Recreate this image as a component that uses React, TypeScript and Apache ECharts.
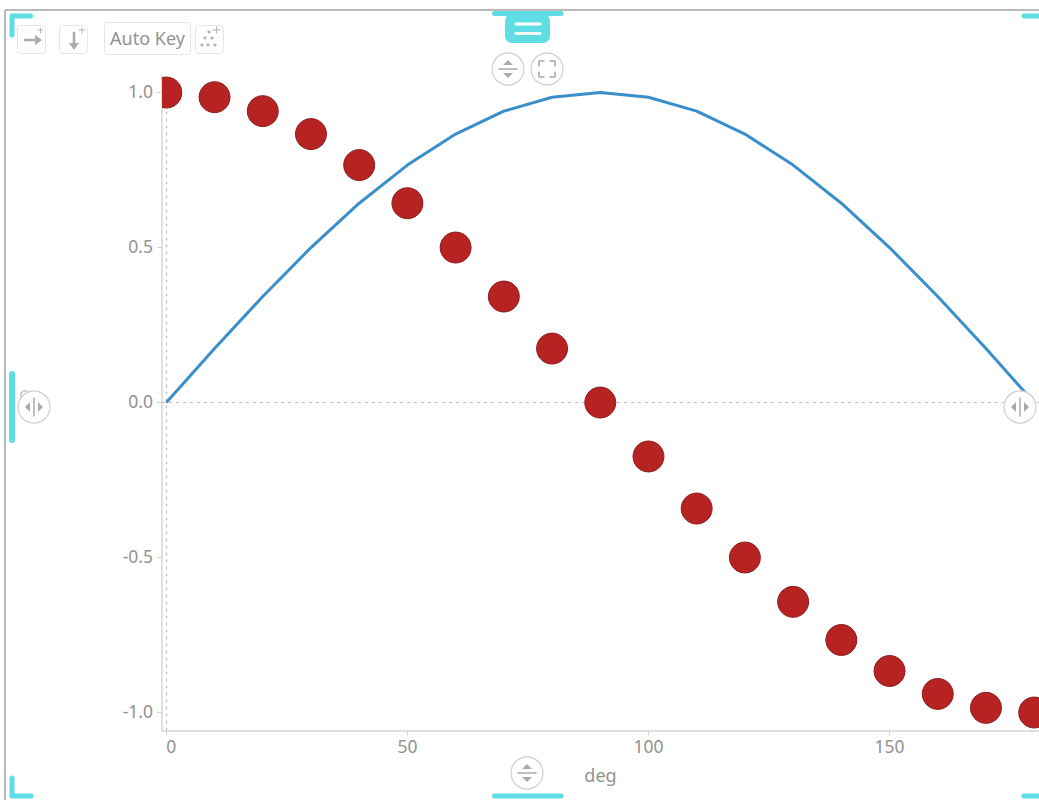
import React, { useEffect, useRef } from "react";
import * as echarts from "echarts";

const degrees = [0, 10, 20, 30, 40, 50, 60, 70, 80, 90, 100, 110, 120, 130, 140, 150, 160, 170, 180];
const sinValues = [0, 0.174, 0.342, 0.5, 0.643, 0.766, 0.866, 0.94, 0.985, 1, 0.985, 0.94, 0.866, 0.766, 0.643, 0.5, 0.342, 0.174, 0];
const cosValues = [1, 0.985, 0.94, 0.866, 0.766, 0.643, 0.5, 0.342, 0.174, 0, -0.174, -0.342, -0.5, -0.643, -0.766, -0.866, -0.94, -0.985, -1];
const xTicks = [0, 50, 100, 150];
const yTicks = [-1, -0.5, 0, 0.5, 1];

const FONT = "'Noto Sans', 'Open Sans', sans-serif";
const TEXT = "#929292";
const CYAN = "#5fdde4";
const ICON = "#ababab";
const Z = 100;

const line = (x1: number, y1: number, x2: number, y2: number, stroke: string, lineWidth: number) => ({
  type: "line", z: Z + 1, silent: true,
  shape: { x1, y1, x2, y2 },
  style: { stroke, lineWidth, lineCap: "round" },
});
const poly = (points: number[][], stroke: string, lineWidth: number) => ({
  type: "polyline", z: Z + 1, silent: true,
  shape: { points },
  style: { stroke, lineWidth, lineCap: "round", lineJoin: "round", fill: "none" },
});
const tri = (points: number[][], fill = ICON) => ({
  type: "polygon", z: Z + 1, silent: true, shape: { points }, style: { fill },
});
const box = (x: number, y: number, width: number, height: number, r: number, fill: string, stroke = "", lineWidth = 0) => ({
  type: "rect", z: Z, silent: true,
  shape: { x, y, width, height, r },
  style: { fill, stroke: stroke || undefined, lineWidth },
});
const ring = (cx: number, cy: number) => ({
  type: "circle", z: Z, silent: true,
  shape: { cx, cy, r: 16 },
  style: { fill: "#fff", stroke: "#cfcfcf", lineWidth: 1.2 },
});
const dot = (cx: number, cy: number) => ({
  type: "circle", z: Z + 1, silent: true, shape: { cx, cy, r: 1.6 }, style: { fill: "#b5b5b5" },
});
const vHandle = (cx: number, cy: number) => [
  ring(cx, cy),
  line(cx - 9, cy, cx + 9, cy, ICON, 1.5),
  tri([[cx, cy - 9], [cx - 5, cy - 4], [cx + 5, cy - 4]]),
  tri([[cx, cy + 9], [cx - 5, cy + 4], [cx + 5, cy + 4]]),
];
const hHandle = (cx: number, cy: number) => [
  ring(cx, cy),
  line(cx, cy - 9, cx, cy + 9, ICON, 1.5),
  tri([[cx - 9, cy], [cx - 4, cy - 5], [cx - 4, cy + 5]]),
  tri([[cx + 9, cy], [cx + 4, cy - 5], [cx + 4, cy + 5]]),
];

const decorations = [
  { type: "line", z: 50, silent: true, shape: { x1: 5, y1: 10, x2: 1039, y2: 10 }, style: { stroke: "#a3a3a3", lineWidth: 1.5 } },
  { type: "line", z: 50, silent: true, shape: { x1: 5, y1: 10, x2: 5, y2: 800 }, style: { stroke: "#a3a3a3", lineWidth: 1.5 } },
  poly([[30.5, 16], [12, 16], [12, 35]], CYAN, 5),
  poly([[12, 778], [12, 796], [31, 796]], CYAN, 5),
  line(1024, 16, 1039, 16, CYAN, 5),
  line(1024, 796, 1039, 796, CYAN, 5),
  line(494.5, 13.5, 561, 13.5, CYAN, 5),
  line(494.5, 796, 561, 796, CYAN, 5),
  line(12, 374, 12, 440, CYAN, 6),
  box(505, 14, 45, 29, 7, CYAN),
  line(516, 24, 540, 24, "#ffffff", 3),
  line(516, 33.5, 540, 33.5, "#ffffff", 3),
  box(17.5, 25.5, 28, 28, 3, "#fff", "#e6e6e6", 1),
  box(59.5, 25.5, 28, 28, 3, "#fff", "#e6e6e6", 1),
  box(104.5, 22.5, 86, 32, 3, "#fff", "#e6e6e6", 1),
  box(195.5, 25.5, 28, 28, 3, "#fff", "#e6e6e6", 1),
  line(25, 40, 36, 40, ICON, 2.5),
  tri([[42, 40], [35, 35], [35, 45]]),
  line(38, 30, 43, 30, "#b5b5b5", 1),
  line(40.5, 28, 40.5, 33, "#b5b5b5", 1),
  line(74, 33, 74, 44, ICON, 2.5),
  tri([[74, 50], [69, 43], [79, 43]]),
  line(79, 30, 85, 30, "#b5b5b5", 1),
  line(82, 27.5, 82, 33, "#b5b5b5", 1),
  dot(209, 32), dot(205, 38), dot(212, 38), dot(202, 45), dot(208, 45), dot(215, 45),
  line(213, 30, 220, 30, "#b5b5b5", 1),
  line(216.5, 27, 216.5, 33, "#b5b5b5", 1),
  {
    type: "text", z: Z + 1, silent: true, x: 147.5, y: 38,
    style: { text: "Auto Key", fill: TEXT, font: `18px ${FONT}`, align: "center", verticalAlign: "middle" },
  },
  ...vHandle(508, 69),
  ring(547, 69),
  poly([[539, 66], [539, 61], [544, 61]], ICON, 1.6),
  poly([[550, 61], [555, 61], [555, 66]], ICON, 1.6),
  poly([[539, 72], [539, 77], [544, 77]], ICON, 1.6),
  poly([[550, 77], [555, 77], [555, 72]], ICON, 1.6),
  { type: "arc", z: Z - 1, silent: true, shape: { cx: 25, cy: 395, r: 4, startAngle: 2.6, endAngle: 5.6 }, style: { stroke: "#c4c4c4", lineWidth: 1.5, fill: "none" } },
  ...hHandle(34, 407),
  ...hHandle(1020, 407),
  ...vHandle(527, 773),
];

export default function App() {
  const ref = useRef<HTMLDivElement>(null);
  useEffect(() => {
    const chart = echarts.init(ref.current!, null, { renderer: "svg" });
    chart.setOption({
      animation: false,
      backgroundColor: "#ffffff",
      textStyle: { fontFamily: FONT },
      grid: { left: 162, right: 0, top: 75.5, bottom: 69.5 },
      xAxis: {
        type: "value",
        min: -0.9,
        max: 181,
        name: "deg",
        nameLocation: "middle",
        nameGap: 35,
        nameTextStyle: { color: TEXT, fontSize: 18, fontFamily: FONT },
        splitLine: { show: false },
        axisLine: { show: true, onZero: false, lineStyle: { color: "#d6d6d6", width: 1.5 } },
        axisTick: { show: true, length: 5, customValues: xTicks, lineStyle: { color: "#d6d6d6" } },
        axisLabel: {
          customValues: xTicks,
          color: TEXT,
          fontSize: 17.5,
          fontFamily: FONT,
          margin: 6,
          alignMinLabel: "left",
          formatter: (v: number) => String(v),
        },
      },
      yAxis: {
        type: "value",
        min: -1.058,
        max: 1.055,
        splitLine: { show: false },
        axisLine: { show: true, onZero: false, lineStyle: { color: "#d6d6d6", width: 1.5 } },
        axisTick: { show: true, length: 5, customValues: yTicks, lineStyle: { color: "#d6d6d6" } },
        axisLabel: {
          customValues: yTicks,
          color: TEXT,
          fontSize: 17.5,
          fontFamily: FONT,
          margin: 9,
          formatter: (v: number) => `{t|${v.toFixed(1)}}`,
          rich: {
            t: { color: TEXT, fontSize: 17.5, fontFamily: FONT, padding: [0, 0, 4, 0] },
          },
        },
      },
      series: [
        {
          type: "line",
          data: degrees.map((d, i) => [d, sinValues[i]]),
          showSymbol: false,
          lineStyle: { color: "#3a8fcb", width: 3 },
          z: 3,
          markLine: {
            silent: true,
            z: 1,
            symbol: "none",
            label: { show: false },
            lineStyle: { color: "#bdbdbd", width: 1.2, type: [3, 4] },
            data: [{ xAxis: 0 }, { yAxis: 0 }],
          },
        },
        {
          type: "custom",
          coordinateSystem: "cartesian2d",
          clip: true,
          data: degrees.map((d, i) => [d, cosValues[i]]),
          encode: { x: 0, y: 1 },
          z: 4,
          renderItem: (params: any, api: any) => {
            const p = api.coord([api.value(0), api.value(1)]);
            const c = params.coordSys;
            return {
              type: "group",
              clipPath: { type: "rect", shape: { x: c.x, y: 0, width: c.width, height: 800 } },
              children: [
                {
                  type: "circle",
                  shape: { cx: p[0], cy: p[1], r: 15.5 },
                  style: { fill: "#b72323", stroke: "#8a1c1c", lineWidth: 1 },
                },
              ],
            };
          },
        },
      ],
      graphic: { elements: decorations },
    });
    return () => chart.dispose();
  }, []);
  return <div ref={ref} style={{ position: "absolute", left: 0, top: 0, width: 1039, height: 800 }} />;
}
